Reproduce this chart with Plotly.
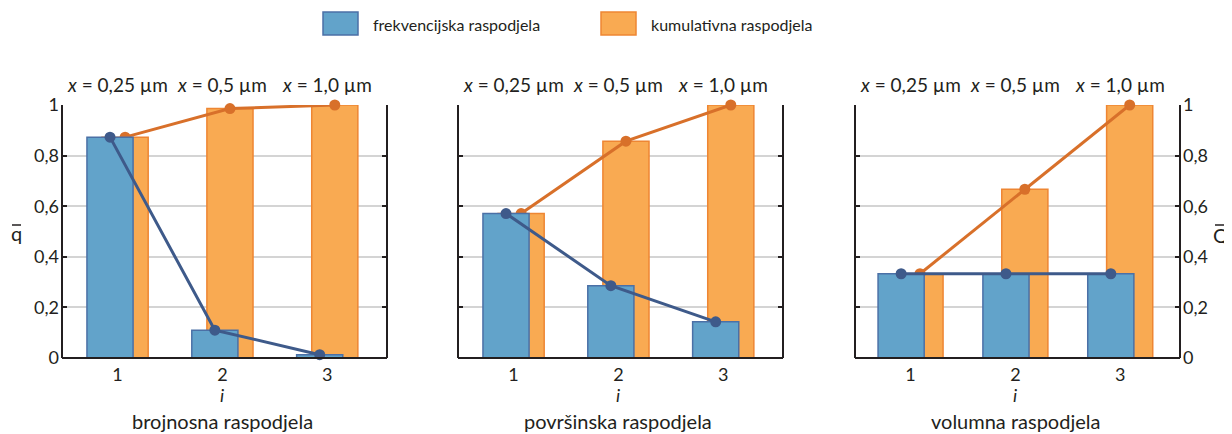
import plotly.graph_objects as go

# ---- data ----
categories = [1, 2, 3]
tick_text = ["1", "2", "3"]
size_labels = ["<i>x</i> = 0,25 µm", "<i>x</i> = 0,5 µm", "<i>x</i> = 1,0 µm"]
panel_titles = ["brojnosna raspodjela", "površinska raspodjela", "volumna raspodjela"]

number_freq = [0.873, 0.110, 0.013]
number_cum = [0.873, 0.986, 1.0]
surface_freq = [0.571, 0.286, 0.143]
surface_cum = [0.571, 0.857, 1.0]
volume_freq = [0.333, 0.333, 0.333]
volume_cum = [0.333, 0.667, 1.0]

y_ticks = [0, 0.2, 0.4, 0.6, 0.8, 1.0]
y_tick_text = ["0", "0,2", "0,4", "0,6", "0,8", "1"]

legend_labels = ["frekvencijska raspodjela", "kumulativna raspodjela"]

# ---- style ----
FONT = "Lato"
TXT = "#231f20"
BLUE_FILL = "#62a3ca"
BLUE_EDGE = "#4b70a6"
BLUE_LINE = "#3e5a8a"
ORANGE_FILL = "#f9aa52"
ORANGE_EDGE = "#ee8633"
ORANGE_LINE = "#d8702a"
GRID = "#d4d4d4"

OFF = 8                      # page body margin
W, H = 1232 - OFF, 434 - OFF
PL, PR, PT, PB = 62, 1180, 105, 358   # target plot-area box in screen pixels
L = PL - OFF
T = PT - OFF
R = W - (PR - OFF)
B = H - (PB - OFF)
pw = PR - PL
ph = PB - PT


def px(x):
    return (x - PL) / pw


def py(y):
    return (PB - y) / ph


domains = [(0, px(387)), (px(458), px(783)), (px(855), 1.0)]
offsets = [0.072, 0.072, 0.09]
bar_w = 0.44
XR = [0.47, 3.57]

panels = [(number_freq, number_cum), (surface_freq, surface_cum), (volume_freq, volume_cum)]

fig = go.Figure()
annotations = []
shapes = []
for k, (freq, cum) in enumerate(panels):
    n = k + 1
    xa = "x" if n == 1 else f"x{n}"
    ya = "y" if n == 1 else f"y{n}"
    # overlay axes for the frequency series (drawn on top of the cumulative series)
    m = n + 3
    xo_a = f"x{m}"
    yo_a = f"y{m}"
    d = offsets[k]
    xb = [c - d for c in categories]
    xo = [c + d for c in categories]
    fig.add_trace(go.Bar(x=xo, y=cum, width=bar_w, xaxis=xa, yaxis=ya,
                         marker=dict(color=ORANGE_FILL, line=dict(color=ORANGE_EDGE, width=1.5)),
                         showlegend=False, hoverinfo="skip"))
    fig.add_trace(go.Scatter(x=xo, y=cum, xaxis=xa, yaxis=ya, mode="lines+markers",
                             line=dict(color=ORANGE_LINE, width=3),
                             marker=dict(color=ORANGE_LINE, size=11),
                             cliponaxis=False, showlegend=False, hoverinfo="skip"))
    fig.add_trace(go.Bar(x=xb, y=freq, width=bar_w, xaxis=xo_a, yaxis=yo_a,
                         marker=dict(color=BLUE_FILL, line=dict(color=BLUE_EDGE, width=1.5)),
                         showlegend=False, hoverinfo="skip"))
    fig.add_trace(go.Scatter(x=xb, y=freq, xaxis=xo_a, yaxis=yo_a, mode="lines+markers",
                             line=dict(color=BLUE_LINE, width=3),
                             marker=dict(color=BLUE_LINE, size=11),
                             cliponaxis=False, showlegend=False, hoverinfo="skip"))

    axis_key = "xaxis" if n == 1 else f"xaxis{n}"
    yaxis_key = "yaxis" if n == 1 else f"yaxis{n}"
    fig.layout[axis_key] = dict(
        domain=domains[k], anchor=ya, range=XR,
        tickvals=categories, ticktext=tick_text, ticks="", ticklabelstandoff=4,
        showgrid=False, zeroline=False, showline=False,
        tickfont=dict(family=FONT, size=18, color=TXT), fixedrange=True)
    fig.layout[yaxis_key] = dict(
        domain=[0, 1], anchor=xa, range=[0, 1],
        tickvals=y_ticks, ticktext=y_tick_text, ticklabelstandoff=2,
        ticks="inside", ticklen=5, tickwidth=2, tickcolor=TXT,
        showline=False, mirror="ticks",
        showgrid=True, gridcolor=GRID, gridwidth=2, zeroline=False,
        showticklabels=(k != 1), side=("right" if k == 2 else "left"),
        tickfont=dict(family=FONT, size=18, color=TXT), fixedrange=True)
    fig.layout[f"xaxis{m}"] = dict(overlaying=xa, anchor=yo_a, range=XR, visible=False,
                                   showgrid=False, zeroline=False, fixedrange=True)
    fig.layout[f"yaxis{m}"] = dict(overlaying=ya, anchor=xo_a, range=[0, 1], visible=False,
                                   showgrid=False, zeroline=False, fixedrange=True)

    # axis frame (left, right, bottom)
    dx = f"{xa} domain"
    dy = f"{ya} domain"
    for (x0, y0, x1, y1) in [(0, 0, 0, 1), (1, 0, 1, 1), (0, 0, 1, 0)]:
        shapes.append(dict(type="line", xref=dx, yref=dy, x0=x0, y0=y0, x1=x1, y1=y1,
                           line=dict(color=TXT, width=2), layer="above"))

    for c, lab in zip(categories, size_labels):
        annotations.append(dict(x=c, y=py(84), xref=xa, yref="paper",
                                text=lab, showarrow=False, xanchor="center", yanchor="middle",
                                font=dict(family=FONT, size=19, color=TXT)))
    annotations.append(dict(x=2, y=py(395), xref=xa, yref="paper",
                            text="<i>i</i>", showarrow=False, xanchor="center", yanchor="middle",
                            font=dict(family=FONT, size=18, color=TXT)))
    annotations.append(dict(x=2, y=py(421), xref=xa, yref="paper",
                            text=panel_titles[k], showarrow=False, xanchor="center", yanchor="middle",
                            font=dict(family=FONT, size=20, color=TXT)))

# axis titles with overlines
for letter, xc, y0, x0, x1 in [("q", 16, 233, 12, 21), ("Q", 1221, 235, 1215, 1228)]:
    annotations.append(dict(x=px(xc), y=py(y0), xref="paper", yref="paper",
                            text=letter, showarrow=False, xanchor="center", yanchor="middle",
                            font=dict(family=FONT, size=20, color=TXT)))
    shapes.append(dict(type="line", xref="paper", yref="paper",
                       x0=px(x0), x1=px(x1), y0=py(225), y1=py(225),
                       line=dict(color=TXT, width=1.5)))

# legend (manual)
leg = [(323, 358, BLUE_FILL, BLUE_EDGE, 371), (601, 636, ORANGE_FILL, ORANGE_EDGE, 649)]
for (x0, x1, fc, ec, tx), lab in zip(leg, legend_labels):
    shapes.append(dict(type="rect", xref="paper", yref="paper",
                       x0=px(x0), x1=px(x1), y0=py(35), y1=py(12),
                       fillcolor=fc, line=dict(color=ec, width=1.5)))
    annotations.append(dict(x=px(tx), y=py(24), xref="paper", yref="paper",
                            text=lab, showarrow=False, xanchor="left", yanchor="middle",
                            font=dict(family=FONT, size=16, color=TXT)))

fig.update_layout(
    width=W, height=H, margin=dict(l=L, r=R, t=T, b=B),
    paper_bgcolor="white", plot_bgcolor="white",
    barmode="overlay", showlegend=False,
    annotations=annotations, shapes=shapes,
    font=dict(family=FONT, color=TXT),
)

fig.write_html("out.html")
